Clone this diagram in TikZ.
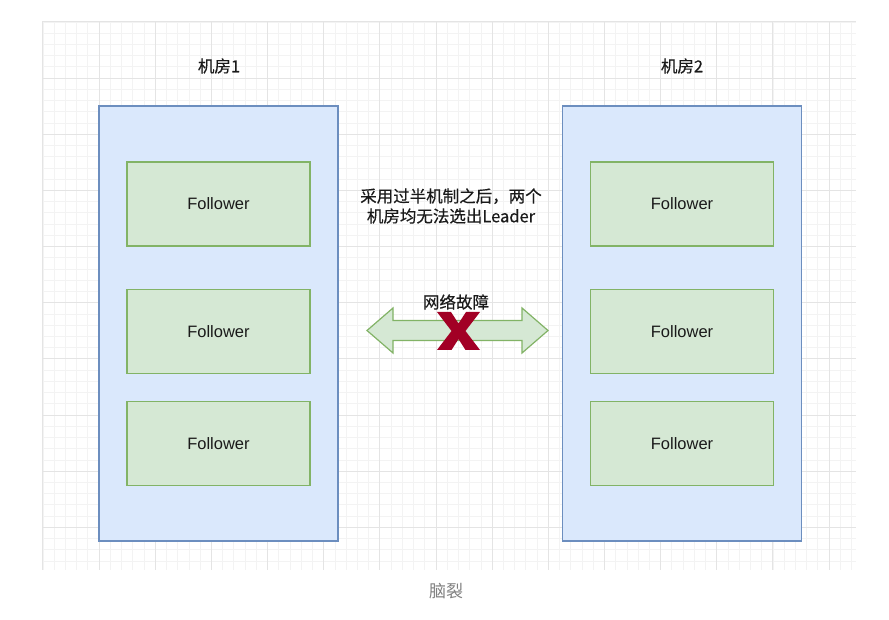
\documentclass[tikz,border=0pt]{standalone}
\usepackage{fontspec}
\setmainfont{Liberation Sans}
\newfontfamily\cjk{Noto Sans CJK SC}[FakeBold=0.4]
\newfontfamily\cjklight{Noto Sans CJK SC}
\usetikzlibrary{positioning, calc}
\definecolor{roomblue}{HTML}{DAE8FC}
\definecolor{roomedge}{HTML}{6C8EBF}
\definecolor{nodegreen}{HTML}{D5E8D4}
\definecolor{nodeedge}{HTML}{82B366}
\definecolor{faultred}{HTML}{A20025}
\definecolor{gridminor}{HTML}{F3F3F3}
\definecolor{gridmajor}{HTML}{E4E4E4}
\definecolor{textdark}{HTML}{1A1A1A}
\definecolor{captiongray}{HTML}{808080}

\begin{document}
\begin{tikzpicture}[
    x=1pt, y=-1pt,
    room/.style={rectangle, draw=roomedge, fill=roomblue, line width=1.2pt, minimum width=239pt, minimum height=435pt, inner sep=0pt},
    follower/.style={rectangle, draw=nodeedge, fill=nodegreen, line width=1.2pt, minimum width=183pt, minimum height=84pt, text=textdark, font=\fontsize{16.5}{20}\selectfont},
    roomtitle/.style={font=\cjk\fontsize{16.5}{20}\selectfont, text=textdark},
    note/.style={font=\cjk\fontsize{16.5}{20}\selectfont, text=textdark, align=center},
    link/.style={draw=nodeedge, fill=nodegreen, line width=1.2pt, line join=miter},
    cross/.style={fill=faultred, draw=none}
]

% Canvas
\useasboundingbox[fill=white] (0,0) rectangle (889,620);

% Grid
\foreach \i in {0,...,72}
    \draw[gridminor, line width=0.6pt] ({42.85+\i*11.23},22) -- ({42.85+\i*11.23},570);
\foreach \j in {0,...,48}
    \draw[gridminor, line width=0.6pt] (42,{21.85+\j*11.23}) -- (856,{21.85+\j*11.23});
\foreach \i in {0,...,14}
    \draw[gridmajor, line width=0.8pt] ({42.85+\i*56.15},22) -- ({42.85+\i*56.15},570);
\foreach \j in {0,...,9}
    \draw[gridmajor, line width=0.8pt] (42,{21.85+\j*56.15}) -- (856,{21.85+\j*56.15});

% Rooms
\node[room] (room1) at (218.5,323.5) {};
\node[room] (room2) at (682,323.5) {};
\node[roomtitle] (title1) at (219,66) {机房1};
\node[roomtitle] (title2) at (682,66) {机房2};

% Followers in room 1
\node[follower, below=56pt of room1.north] (f11) {Follower};
\node[follower, below=42pt of f11] (f12) {Follower};
\node[follower, below=27pt of f12] (f13) {Follower};

% Followers in room 2
\node[follower, below=56pt of room2.north] (f21) {Follower};
\node[follower, below=42pt of f21] (f22) {Follower};
\node[follower, below=27pt of f22] (f23) {Follower};

% Note
\node[note] (quorum) at (451,206) {采用过半机制之后，两个\\机房均无法选出Leader};

% Broken link
\coordinate (mid) at (458.5,331);
\draw[link] (367,330.5) -- (393,308) -- (393,320.5) -- (522,320.5) -- (522,308)
    -- (548,330.5) -- (522,353) -- (522,340.5) -- (393,340.5) -- (393,353) -- cycle;
\node[roomtitle] (fault) at (456,302) {网络故障};
\fill[cross] ($(mid)+(-21.5,-19)$) -- ($(mid)+(-7.5,-19)$) -- ($(mid)+(0,-7.5)$)
    -- ($(mid)+(7.5,-19)$) -- ($(mid)+(21.5,-19)$) -- ($(mid)+(7,0)$)
    -- ($(mid)+(21.5,19)$) -- ($(mid)+(7,19)$) -- ($(mid)+(0,8)$)
    -- ($(mid)+(-7,19)$) -- ($(mid)+(-21.5,19)$) -- ($(mid)+(-7,0)$) -- cycle;

% Caption
\node[font=\cjklight\fontsize{17}{20}\selectfont, text=captiongray] (caption) at (446,591) {脑裂};

\end{tikzpicture}
\end{document}
